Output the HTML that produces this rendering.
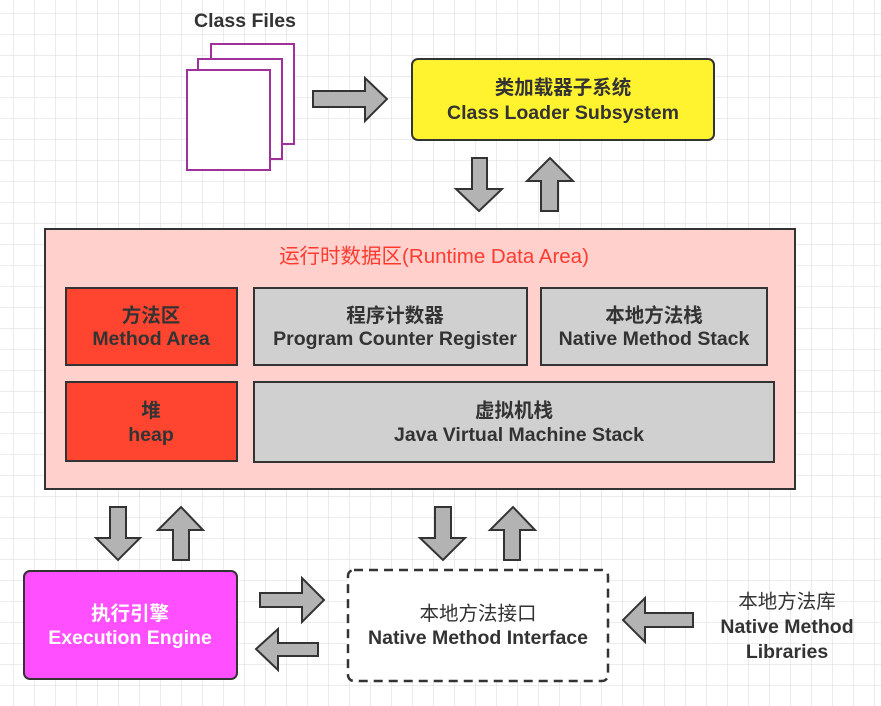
<!DOCTYPE html>
<html><head><meta charset="utf-8"><style>
html,body{margin:0;padding:0;width:881px;height:706px;overflow:hidden;background:#fff}
svg{display:block}
text{font-family:"Liberation Sans","Noto Sans CJK SC",sans-serif;text-anchor:middle}
.b{font-weight:bold;font-size:19.5px;fill:#333}
.w{font-weight:bold;font-size:19.5px;fill:#fff}
.a{fill:#b3b3b3;stroke:#333;stroke-width:2;stroke-linejoin:miter}
</style></head><body>
<svg width="881" height="706" viewBox="0 0 881 706">
<defs><pattern id="g" x="13" y="13" width="21" height="21" patternUnits="userSpaceOnUse"><path d="M0 0H21M0 0V21" stroke="#e0e0e0" stroke-width="1.3" fill="none"/></pattern></defs>
<rect width="881" height="706" fill="url(#g)"/>
<text x="245" y="27" class="b">Class Files</text>
<rect x="211" y="44" width="83" height="100" fill="#fff" stroke="#a0309a" stroke-width="2"/>
<rect x="198" y="59" width="84" height="100" fill="#fff" stroke="#a0309a" stroke-width="2"/>
<rect x="187" y="70" width="83" height="100" fill="#fff" stroke="#a0309a" stroke-width="2"/>
<polygon class="a" points="313,91 365,91 365,78 387,99 365,121 365,107 313,107"/>
<rect x="412" y="59" width="302" height="81" rx="6" fill="#fff22f" stroke="#333" stroke-width="2"/>
<text x="563" y="94" class="b">类加载器子系统</text>
<text x="563" y="119" class="b">Class Loader Subsystem</text>
<polygon class="a" points="472,158 487,158 487,189 502,189 479,211 456,189 472,189"/>
<polygon class="a" points="541,211 558,211 558,181 573,181 550,158 527,181 541,181"/>
<rect x="45" y="229" width="750" height="260" fill="#ffd0cc" stroke="#333" stroke-width="2"/>
<text x="434" y="263" style="font-size:20.5px;fill:#ff3b30">运行时数据区(Runtime Data Area)</text>
<rect x="66" y="288" width="171" height="77" fill="#ff4530" stroke="#333" stroke-width="2"/>
<text x="151" y="322" class="b">方法区</text><text x="151" y="345" class="b">Method Area</text>
<rect x="254" y="288" width="273" height="77" fill="#d0d0d0" stroke="#333" stroke-width="2"/>
<text x="395" y="322" class="b">程序计数器</text><text x="395" y="345" class="b">Program Counter Register</text>
<rect x="541" y="288" width="226" height="77" fill="#d0d0d0" stroke="#333" stroke-width="2"/>
<text x="654" y="322" class="b">本地方法栈</text><text x="654" y="345" class="b">Native Method Stack</text>
<rect x="66" y="382" width="171" height="79" fill="#ff4530" stroke="#333" stroke-width="2"/>
<text x="151" y="417" class="b">堆</text><text x="151" y="441" class="b">heap</text>
<rect x="254" y="382" width="520" height="80" fill="#d0d0d0" stroke="#333" stroke-width="2"/>
<text x="514" y="417" class="b">虚拟机栈</text><text x="519" y="441" class="b">Java Virtual Machine Stack</text>
<polygon class="a" points="110,507 126,507 126,538 140,538 118,560 96,538 110,538"/>
<polygon class="a" points="173,560 189,560 189,530 203,530 181,507 158,530 173,530"/>
<polygon class="a" points="435,507 451,507 451,538 465,538 443,560 420,538 435,538"/>
<polygon class="a" points="504,560 520,560 520,530 535,530 513,507 490,530 504,530"/>
<rect x="24" y="571" width="213" height="108" rx="6" fill="#ff4fff" stroke="#333" stroke-width="2"/>
<text x="130" y="620" class="w">执行引擎</text><text x="130" y="644" class="w">Execution Engine</text>
<polygon class="a" points="260,593 302,593 302,578 324,600 302,622 302,607 260,607"/>
<polygon class="a" points="318,643 278,643 278,629 256,649 278,670 278,656 318,656"/>
<rect x="348" y="570" width="260" height="111" rx="6" fill="#fff" stroke="#333" stroke-width="2.5" stroke-dasharray="9,6"/>
<text x="478" y="620" style="font-size:19.5px;fill:#333">本地方法接口</text>
<text x="478" y="644" class="b">Native Method Interface</text>
<polygon class="a" points="693,613 645,613 645,598 623,620 645,642 645,627 693,627"/>
<text x="787" y="608" class="b" style="font-weight:normal">本地方法库</text>
<text x="787" y="633" class="b">Native Method</text>
<text x="787" y="658" class="b">Libraries</text>
</svg>
</body></html>
